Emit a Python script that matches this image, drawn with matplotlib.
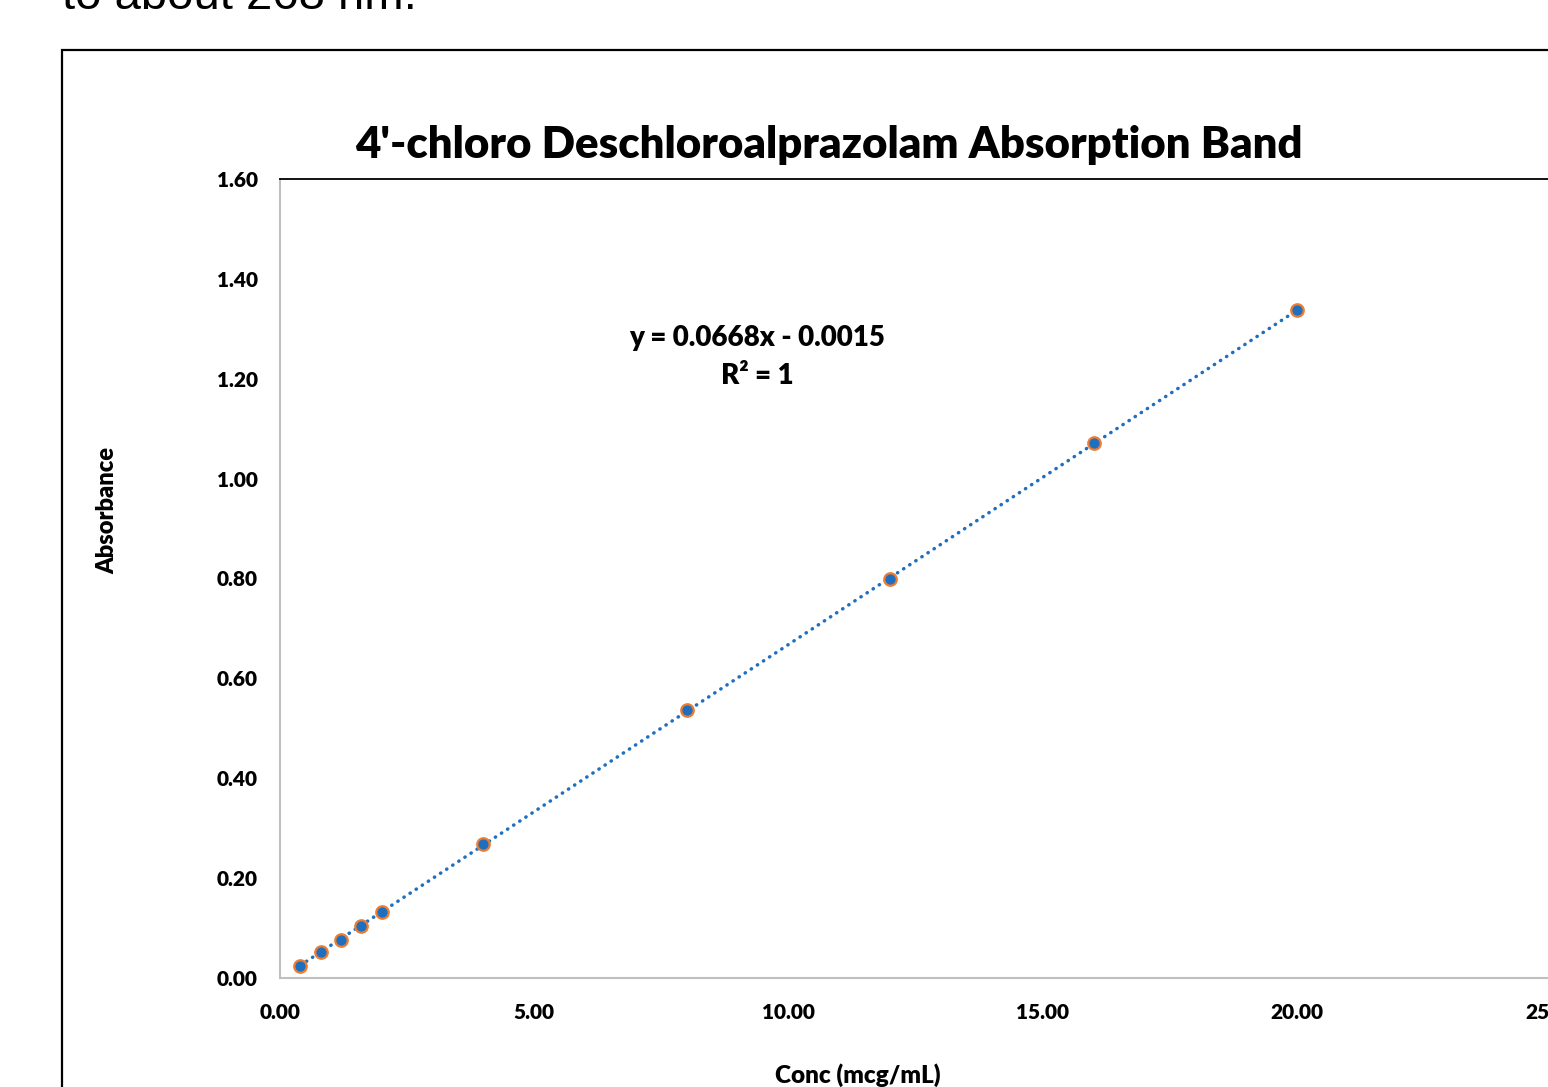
import numpy as np
import matplotlib.pyplot as plt
from matplotlib.patches import Rectangle

# Calibration data
conc = [0.4, 0.8, 1.2, 1.6, 2.0, 4.0, 8.0, 12.0, 16.0, 20.0]
absorbance = [0.025, 0.053, 0.077, 0.105, 0.133, 0.268, 0.536, 0.798, 1.072, 1.337]
x_ticks = [0, 5, 10, 15, 20, 25]
y_ticks = [0.0, 0.2, 0.4, 0.6, 0.8, 1.0, 1.2, 1.4, 1.6]

title = "4'-chloro Deschloroalprazolam Absorption Band"
equation = "y = 0.0668x - 0.0015\nR² = 1"

blue = '#1f6fc0'
orange = '#ed7d31'
font = ['Lato', 'DejaVu Sans']
wt = 'heavy'

fig = plt.figure(figsize=(15.48, 10.87), dpi=100)

# slide text cut off at top
fig.text(62 / 1548, 1 - 9 / 1087, 'to about 268 nm.', family='Liberation Sans',
         fontsize=34, va='baseline', ha='left', color='black')

# chart frame (runs off the right and bottom edges)
fig.patches.append(Rectangle((62 / 1548, -0.05), 1.0, 1 - 50 / 1087 + 0.05,
                             transform=fig.transFigure, fill=False,
                             edgecolor='black', linewidth=1.6))

ax = fig.add_axes([280 / 1548, 109 / 1087, 1271.5 / 1548, 799 / 1087])

# trendline fitted to the data
slope, intercept = np.polyfit(conc, absorbance, 1)
xs = np.array([conc[0], conc[-1]])
ax.plot(xs, slope * xs + intercept, color=blue, linewidth=2.5,
        linestyle=(0, (0.1, 2.0)), dash_capstyle='round', zorder=2)

ax.plot(conc, absorbance, 'o', markersize=9, markerfacecolor=blue,
        markeredgecolor=orange, markeredgewidth=1.6, zorder=3)

ax.set_xlim(0, 25)
ax.set_ylim(0, 1.6)
ax.set_xticks(x_ticks)
ax.set_xticklabels([f'{v:.2f}' for v in x_ticks], family=font, fontweight=wt, fontsize=15)
ax.set_yticks(y_ticks)
ax.set_yticklabels([f'{v:.2f}' for v in y_ticks], family=font, fontweight=wt, fontsize=15)
ax.tick_params(length=0, pad=16)
ax.tick_params(axis='x', pad=18)

for side in ['left', 'bottom']:
    ax.spines[side].set_color('#bfbfbf')
    ax.spines[side].set_linewidth(1.5)
ax.spines['top'].set_color('black')
ax.spines['top'].set_linewidth(1.3)
ax.spines['right'].set_visible(False)

fig.text(829 / 1548, 1 - 145 / 1087, title, family=font, fontweight=wt,
         fontsize=31.5, ha='center', va='center')
ax.text(757 / 1548, 1 - 357 / 1087, equation, transform=fig.transFigure, family=font,
        fontweight=wt, fontsize=20, ha='center', va='center', linespacing=1.55)

fig.text(107 / 1548, 1 - 511 / 1087, 'Absorbance', family=font, fontweight=wt,
         fontsize=17, rotation=90, ha='center', va='center')
fig.text(858 / 1548, 1 - 1075 / 1087, 'Conc (mcg/mL)', family=font, fontweight=wt,
         fontsize=17.5, ha='center', va='center')

fig.savefig('out.png', dpi=100)
